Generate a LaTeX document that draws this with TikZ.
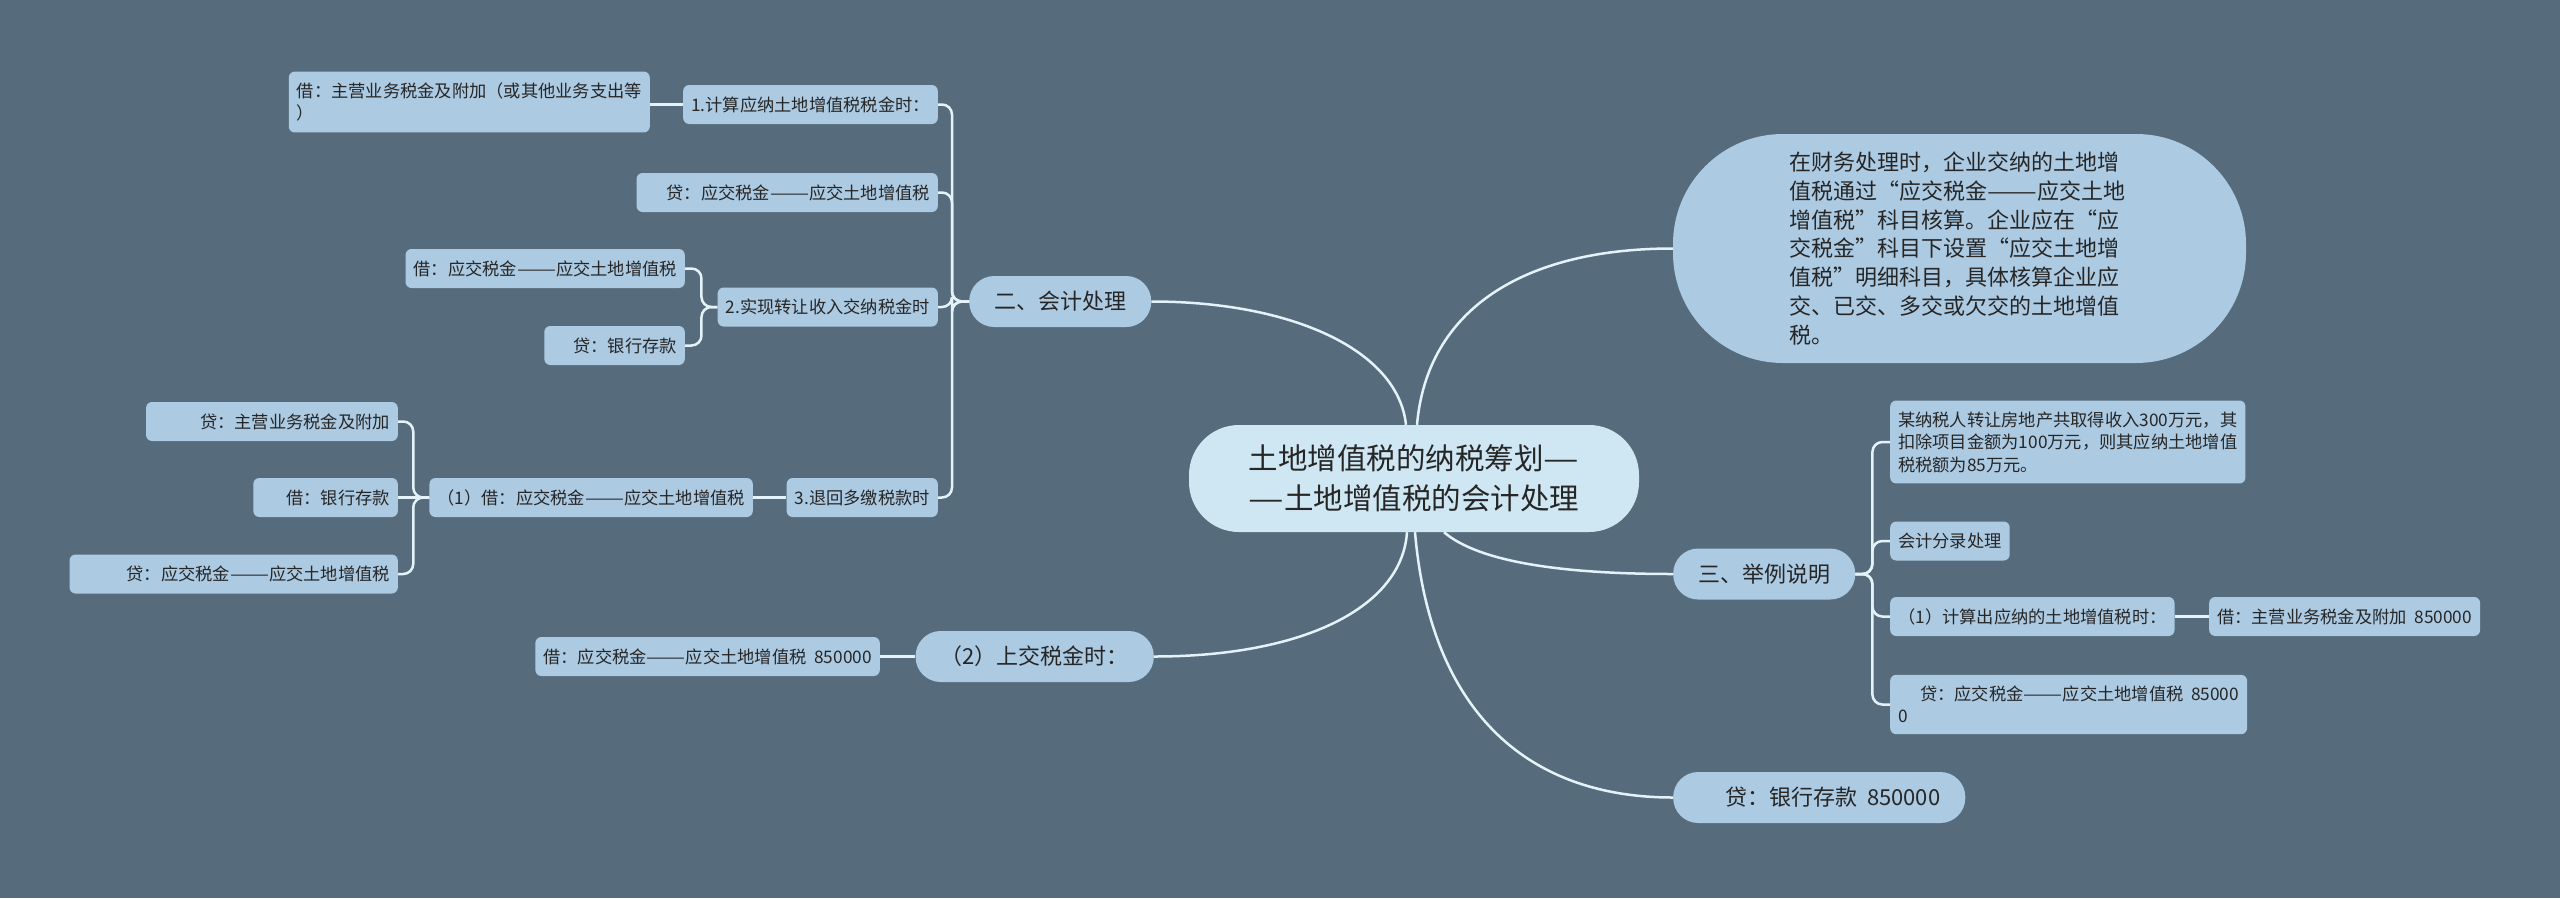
\documentclass[tikz,border=0pt]{standalone}
\usepackage{fontspec}
\usepackage{graphicx}
\usepackage{tikz}
\usetikzlibrary{calc}
\newfontfamily\cjk{Noto Sans CJK SC}
\newcommand{\cjkdash}[1]{\scalebox{1.35}[1]{#1}}
\definecolor{bgslate}{RGB}{86, 108, 124}
\definecolor{leafblue}{RGB}{172, 202, 226}
\definecolor{rootblue}{RGB}{207, 230, 243}
\definecolor{linkwhite}{RGB}{228, 243, 250}
\definecolor{inkgray}{RGB}{38, 38, 38}

\begin{document}
\begin{tikzpicture}[x=1pt, y=-1pt,
  leaf/.style={rectangle, rounded corners=6pt, fill=leafblue, text=inkgray,
    inner xsep=8pt, inner ysep=11pt, minimum height=39pt, align=left,
    font=\cjk\fontsize{17.25}{22.5}\selectfont},
  branch/.style={rectangle, rounded corners=25pt, fill=leafblue, text=inkgray,
    inner xsep=25pt, minimum height=51pt, font=\cjk\fontsize{22}{29}\selectfont},
  link/.style={draw=linkwhite, line width=2.5pt, rounded corners=10pt},
  trunk/.style={draw=linkwhite, line width=2.5pt}]
  \useasboundingbox (0,0) rectangle (2560,898);
  \fill[bgslate] (0,0) rectangle (2560,898);

  % centre
  \node[rectangle, rounded corners=50pt, fill=rootblue, text=inkgray, align=center,
    minimum width=450pt, minimum height=107pt,
    font=\cjk\fontsize{29.5}{40}\selectfont] (root) at (1414,478.5)
    {土地增值税的纳税筹划\cjkdash{—}\\\cjkdash{—}土地增值税的会计处理};

  % first level
  \node[rectangle, rounded corners=110pt, fill=leafblue, text=inkgray, align=left,
    minimum width=573pt, minimum height=229pt, inner ysep=4pt, text width=340pt,
    font=\cjk\fontsize{22}{28.8}\selectfont] (desc) at (1959.5,248.5)
    {在财务处理时，企业交纳的土地增\\值税通过“应交税金\cjkdash{——}应交土地\\增值税”科目核算。企业应在“应\\交税金”科目下设置“应交土地增\\值税”明细科目，具体核算企业应\\交、已交、多交或欠交的土地增值\\税。};
  \node[branch, anchor=west] (sec2) at (969,301.5) {二、会计处理};
  \node[branch, anchor=east] (pay) at (1154,656.5) {（2）上交税金时：};
  \node[branch, anchor=west] (sec3) at (1673,574) {三、举例说明};
  \node[branch, anchor=west] (bank) at (1673,797.5) {\hspace*{27pt}贷：银行存款~~850000};

  % left side leaves
  \node[leaf, anchor=east] (l1) at (938,104.5) {1.计算应纳土地增值税税金时：};
  \node[leaf, anchor=east] (a1) at (650,102) {借：主营业务税金及附加（或其他业务支出等\\）};
  \node[leaf, anchor=east] (l2) at (938,192.5) {\hspace*{22pt}贷：应交税金\cjkdash{——}应交土地增值税};
  \node[leaf, anchor=east] (l3) at (938,307) {2.实现转让收入交纳税金时};
  \node[leaf, anchor=east] (l3a) at (685,268.5) {借：应交税金\cjkdash{——}应交土地增值税};
  \node[leaf, anchor=east] (l3b) at (685,345.5) {\hspace*{21pt}贷：银行存款};
  \node[leaf, anchor=east] (l4) at (938,497.5) {3.退回多缴税款时};
  \node[leaf, anchor=east] (l4a) at (753,497.5) {（1）借：应交税金\cjkdash{——}应交土地增值税};
  \node[leaf, anchor=east] (l4a1) at (398,421.5) {\hspace*{46pt}贷：主营业务税金及附加};
  \node[leaf, anchor=east] (l4a2) at (398,497.5) {\hspace*{25pt}借：银行存款};
  \node[leaf, anchor=east] (l4a3) at (398,574) {\hspace*{49pt}贷：应交税金\cjkdash{——}应交土地增值税};
  \node[leaf, anchor=east] (payd) at (880,656.5) {借：应交税金\cjkdash{——}应交土地增值税~~850000};

  % right side leaves
  \node[leaf, anchor=west] (r1) at (1890,442)
    {某纳税人转让房地产共取得收入300万元，其\\扣除项目金额为100万元，则其应纳土地增值\\税税额为85万元。};
  \node[leaf, anchor=west] (r2) at (1890,541) {会计分录处理};
  \node[leaf, anchor=west] (r3) at (1890,616.5) {（1）计算出应纳的土地增值税时：};
  \node[leaf, anchor=west] (r3a) at (2209,616.5) {借：主营业务税金及附加~~850000};
  \node[leaf, anchor=west] (r4) at (1890,704.5)
    {\hspace*{22pt}贷：应交税金\cjkdash{——}应交土地增值税~~85000\\0};

  % trunk curves
  \draw[trunk] ($(root.north)+(-8,0)$) .. controls +(-8,-75) and +(140,0) .. (sec2.east);
  \draw[trunk] ($(root.north)+(3,0)$) .. controls +(10,-115) and +(-150,0) .. (desc.west);
  \draw[trunk] ($(root.south)+(30,0)$) .. controls +(35,30) and +(-110,0) .. (sec3.west);
  \draw[trunk] ($(root.south)+(-7,0)$) .. controls +(-5,75) and +(150,0) .. (pay.east);
  \draw[trunk] ($(root.south)+(1,0)$) .. controls +(15,175) and +(-150,0) .. (bank.west);

  % brackets
  \foreach \kid in {l1, l2, l3, l4}
    \draw[link] (sec2.west) -- ++(-17,0) |- (\kid.east);
  \foreach \kid in {l3a, l3b}
    \draw[link] (l3.west) -- ++(-16,0) |- (\kid.east);
  \foreach \kid in {l4a1, l4a3}
    \draw[link] (l4a.west) -- ++(-16,0) |- (\kid.east);
  \draw[link] (l4a.west) -- (l4a2.east);
  \draw[link] (l4.west) -- (l4a.east);
  \draw[link] (l1.west) -- (l1.west -| a1.east);
  \draw[link] (pay.west) -- (payd.east);
  \foreach \kid in {r1, r2, r3, r4}
    \draw[link] (sec3.east) -- ++(17,0) |- (\kid.west);
  \draw[link] (r3.east) -- (r3a.west);
\end{tikzpicture}
\end{document}
